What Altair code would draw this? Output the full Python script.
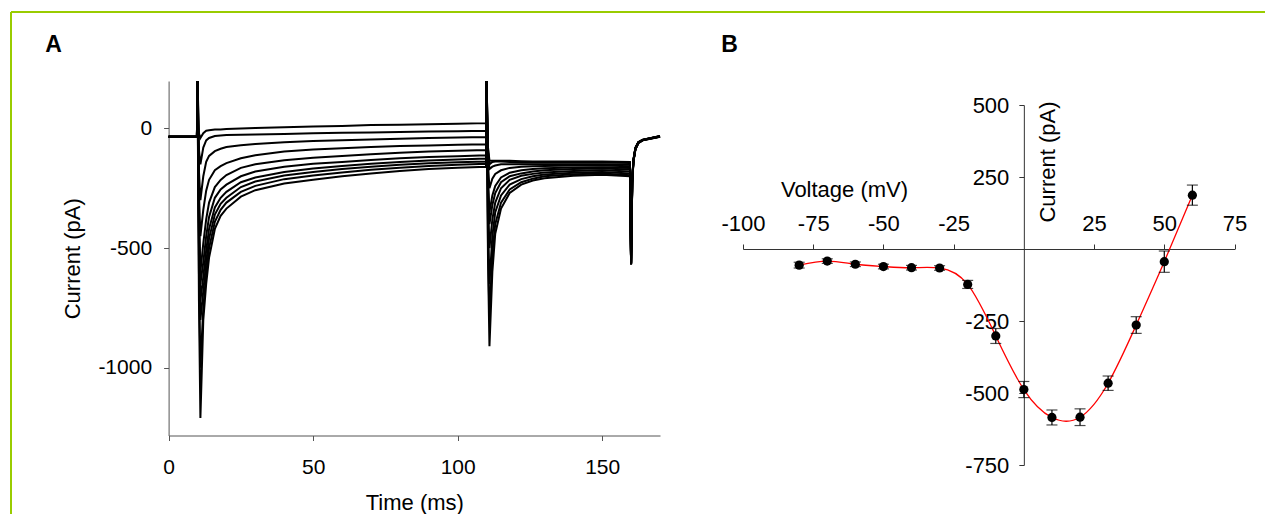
import altair as alt
import pandas as pd

# ---------------- Panel A: whole-cell current traces ----------------
time_ms = [0, 9.8, 10.0, 10.5, 11.0, 12, 13, 14, 16, 18, 20, 25, 30, 40, 50, 60, 70, 80, 90, 100,
           109.8, 110.0, 110.5, 111.0, 112, 113, 115, 118, 122, 126, 130, 140, 150,
           159.6, 160.0, 160.4, 160.8, 161.5, 162.5, 164, 170]

trace_1 = [-35, -35, 198, -20, -40, -20, -10, -8, -5, -5, -3, 0, 2, 5, 8, 10, 14, 15, 17, 19,
           22, 198, -80, -135, -135, -135, -135, -135, -137, -138, -138, -138, -138,
           -140, -560, -210, -130, -80, -58, -48, -32]
trace_2 = [-35, -35, 198, -90, -150, -80, -50, -40, -32, -30, -28, -27, -25, -23, -20, -18, -17, -15, -13, -12,
           -10, 198, -90, -150, -140, -138, -138, -140, -142, -143, -143, -143, -143,
           -145, -562, -212, -132, -82, -58, -48, -33]
trace_3 = [-35, -35, 198, -180, -300, -200, -140, -115, -95, -85, -78, -70, -65, -58, -53, -50, -46, -43, -40, -38,
           -36, 198, -100, -170, -160, -155, -150, -150, -150, -150, -150, -150, -150,
           -152, -563, -215, -133, -82, -58, -47, -33]
trace_4 = [-35, -35, 198, -270, -450, -340, -260, -215, -175, -158, -145, -125, -112, -97, -88, -83, -78, -74, -71, -68,
           -66, 198, -150, -250, -210, -190, -175, -165, -160, -158, -157, -155, -155,
           -158, -564, -218, -134, -83, -59, -48, -33]
trace_5 = [-35, -35, 198, -360, -600, -480, -380, -310, -245, -215, -195, -165, -150, -133, -123, -115, -108, -102, -97, -93,
           -90, 198, -210, -350, -280, -240, -205, -185, -175, -170, -167, -163, -162,
           -165, -565, -220, -135, -84, -59, -48, -33]
trace_6 = [-35, -35, 198, -390, -650, -560, -450, -370, -290, -255, -235, -200, -180, -160, -148, -140, -132, -125, -120, -116,
           -112, 198, -240, -400, -320, -270, -225, -200, -188, -180, -175, -170, -168,
           -172, -566, -222, -136, -85, -60, -49, -34]
trace_7 = [-35, -35, 198, -430, -720, -620, -510, -420, -330, -290, -265, -225, -205, -182, -168, -157, -148, -140, -134, -130,
           -126, 198, -300, -500, -380, -310, -250, -215, -198, -190, -184, -178, -175,
           -180, -567, -224, -137, -85, -60, -49, -34]
trace_8 = [-35, -35, 198, -480, -800, -680, -560, -460, -360, -315, -290, -245, -222, -197, -182, -170, -160, -152, -146, -141,
           -138, 198, -390, -650, -450, -350, -280, -235, -212, -200, -193, -185, -182,
           -188, -568, -226, -138, -86, -61, -49, -34]
trace_9 = [-35, -35, 198, -600, -1000, -750, -610, -500, -390, -340, -310, -265, -240, -212, -197, -184, -173, -164, -157, -152,
           -148, 198, -480, -800, -520, -400, -310, -255, -225, -210, -200, -192, -188,
           -195, -569, -228, -139, -86, -61, -50, -35]
trace_10 = [-35, -35, 198, -720, -1210, -800, -650, -540, -420, -365, -335, -285, -258, -230, -215, -200, -188, -178, -170, -164,
            -160, 198, -550, -910, -600, -440, -335, -270, -235, -218, -208, -198, -194,
            -200, -569, -230, -140, -87, -62, -50, -35]

traces = [trace_1, trace_2, trace_3, trace_4, trace_5, trace_6, trace_7, trace_8, trace_9, trace_10]

# ---------------- Panel B: current-voltage relation (mean +/- SEM) ----------------
voltage_mv = [-80, -70, -60, -50, -40, -30, -20, -10, 0, 10, 20, 30, 40, 50, 60]
current_pa = [-56, -42, -53, -61, -65, -66, -123, -302, -488, -585, -584, -466, -264, -44, 187]
sem_pa = [10, 8, 8, 8, 8, 8, 14, 26, 28, 26, 29, 25, 29, 37, 35]

A_x_ticks = [0, 50, 100, 150]
A_y_ticks = [0, -500, -1000]
B_x_ticks = [-100, -75, -50, -25, 25, 50, 75]
B_y_ticks = [500, 250, -250, -500, -750]

# ---------------- layout (pixels inside the drawing area) ----------------
W, H = 1257, 506
A_XR, A_YR = [160.6, 652.0], [427.5, 73.0]
B_XR, B_YR = [735.0, 1226.5], [457.0, 97.0]
A_XD, A_YD = [0, 170], [-1283, 198]
B_XD, B_YD = [-100, 75], [-750, 500]
B_x0 = B_XR[0] + (0 - B_XD[0]) / (B_XD[1] - B_XD[0]) * (B_XR[1] - B_XR[0])
B_y0 = B_YR[1] + (B_YD[1] - 0) / (B_YD[1] - B_YD[0]) * (B_YR[0] - B_YR[1])

FONT = "Liberation Sans, Arial, Helvetica, sans-serif"
hyphen = "'' + datum.value"


def common(size):
    return dict(grid=False, labelFont=FONT, titleFont=FONT, labelFontSize=size, titleFontSize=22,
                titleFontWeight="normal", labelColor="black", titleColor="black",
                labelFlush=False, labelOverlap=False, tickSize=5, labelExpr=hyphen)


for tr in traces:
    assert len(tr) == len(time_ms)

rowsA = [{"t": t, "I": v, "trace": k} for k, tr in enumerate(traces, 1) for t, v in zip(time_ms, tr)]
dfA = pd.DataFrame(rowsA)

chartA = alt.Chart(dfA).mark_line(color="black", strokeWidth=2.0).encode(
    x=alt.X("t:Q", scale=alt.Scale(domain=A_XD, range=A_XR, nice=False, zero=False),
            axis=alt.Axis(orient="bottom", offset=A_YR[0] - H, values=A_x_ticks, title="Time (ms)",
                          titleX=(A_XR[0] + A_XR[1]) / 2, titleY=66.5, titleBaseline="middle",
                          titleAlign="center", labelPadding=16, domainColor="#555", tickColor="#555",
                          **common(21))),
    y=alt.Y("I:Q", scale=alt.Scale(domain=A_YD, range=A_YR, nice=False, zero=False),
            axis=alt.Axis(orient="left", offset=-A_XR[0], values=A_y_ticks, title="Current (pA)",
                          titleX=-96.5, titleY=(A_YR[0] + A_YR[1]) / 2, titleAngle=270,
                          titleBaseline="middle", titleAlign="center", labelPadding=12,
                          domainColor="#555", tickColor="#555", **common(21))),
    detail="trace:N",
)

dfB = pd.DataFrame({"V": voltage_mv, "I": current_pa, "sem": sem_pa})
dfB["lo"] = dfB["I"] - dfB["sem"]
dfB["hi"] = dfB["I"] + dfB["sem"]

xB = alt.X("V:Q", scale=alt.Scale(domain=B_XD, range=B_XR, nice=False, zero=False),
           axis=alt.Axis(orient="top", offset=-B_y0, values=B_x_ticks, title="Voltage (mV)",
                         titleX=836, titleY=-60, titleBaseline="middle", titleAlign="center",
                         labelPadding=9, domainColor="#333", tickColor="#333", **common(22)))
yB = alt.Y("I:Q", scale=alt.Scale(domain=B_YD, range=B_YR, nice=False, zero=False),
           axis=alt.Axis(orient="left", offset=-B_x0, values=B_y_ticks, title="Current (pA)",
                         titleX=23.5, titleY=153.5, titleAngle=270, titleBaseline="middle",
                         titleAlign="center", labelPadding=10, domainColor="#333", tickColor="#333",
                         **common(22)))

baseB = alt.Chart(dfB)
curve = baseB.mark_line(color="#ff0000", strokeWidth=1.3, interpolate="natural").encode(x=xB, y=yB)
bars = baseB.mark_rule(color="black", strokeWidth=1.2).encode(x=xB, y=alt.Y("lo:Q"), y2="hi:Q")
cap_lo = baseB.mark_tick(color="black", orient="horizontal", size=11, thickness=1.2).encode(x=xB, y=alt.Y("lo:Q"))
cap_hi = baseB.mark_tick(color="black", orient="horizontal", size=11, thickness=1.2).encode(x=xB, y=alt.Y("hi:Q"))
dots = baseB.mark_circle(color="black", size=85, opacity=1).encode(x=xB, y=yB)
chartB = alt.layer(curve, bars, cap_lo, cap_hi, dots)

one = alt.Data(values=[{}])
border_top = alt.Chart(one).mark_rule(color="#99cc00", strokeWidth=2).encode(
    x=alt.value(3), x2=alt.value(W), y=alt.value(4))
border_left = alt.Chart(one).mark_rule(color="#99cc00", strokeWidth=2).encode(
    x=alt.value(3), y=alt.value(4), y2=alt.value(H))
label_A = alt.Chart(alt.Data(values=[{"p": "A"}])).mark_text(
    font=FONT, fontSize=23, fontWeight="bold", color="black", align="center", baseline="middle"
).encode(text="p:N", x=alt.value(45.5), y=alt.value(37))
label_B = alt.Chart(alt.Data(values=[{"p": "B"}])).mark_text(
    font=FONT, fontSize=23, fontWeight="bold", color="black", align="center", baseline="middle"
).encode(text="p:N", x=alt.value(721.5), y=alt.value(37))

chart = alt.layer(border_top, border_left, label_A, label_B, chartA, chartB).resolve_scale(
    x="independent", y="independent"
).properties(
    width=W, height=H, autosize=alt.AutoSizeParams(type="none"), padding=0
).configure_view(stroke=None).configure_axis(grid=False)

chart.save("out.html", embed_options={"renderer": "svg", "actions": False})
